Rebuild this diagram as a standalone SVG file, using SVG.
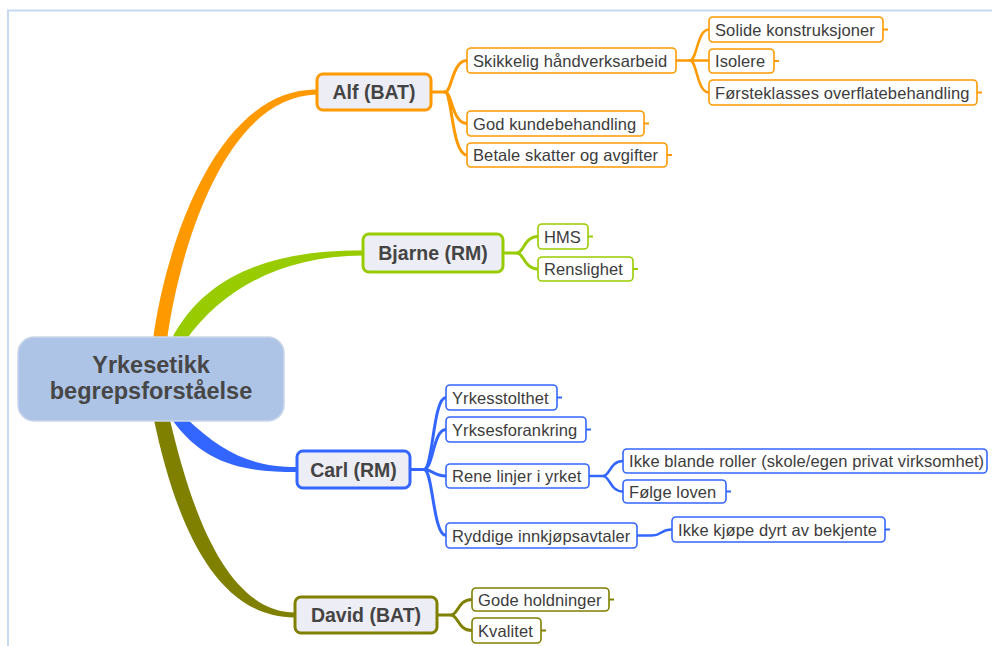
<svg xmlns="http://www.w3.org/2000/svg" width="992" height="646" viewBox="0 0 992 646">
<style>
text{font-family:"Liberation Sans",Arial,sans-serif;fill:#3c3c3c}
.sub{font-size:16.5px;letter-spacing:0.1px}
.main{font-size:19.5px;font-weight:bold;text-anchor:middle;fill:#444444}
.ctr{font-size:23.5px;font-weight:bold;text-anchor:middle;fill:#474747}
.mn{fill:#ededf5;stroke-width:3}
.sn{fill:#ffffff;stroke-width:1.6}
.c{fill:none;stroke-linecap:round}
.o{stroke:#ff9900}.g{stroke:#99cc00}.b{stroke:#3366ff}.v{stroke:#808000}
.tk{stroke-width:2;fill:none}
</style>
<path d="M8,646 V10.5 H992" fill="none" stroke="#c6d9f0" stroke-width="2"/>
<g id="connectors">
  <!-- main tapered branches -->
  <path d="M153,340 C165,248 216,88.5 317,89.5 L317,94.5 C224,96 179,252 167,340 Z" fill="#ff9900"/>
  <path d="M171,340 C206,272 276,250 363,250.5 L363,255.5 C284,256 224,287 186,340 Z" fill="#99cc00"/>
  <path d="M171,418 C204,466 247,472 297,472 L297,467 C250,467 222,452 186,418 Z" fill="#3366ff"/>
  <path d="M154,420 C172,504 208,618 295,617.5 L295,612.5 C222,612 188,496 170,420 Z" fill="#808000"/>
  <!-- Alf -->
  <g class="c o" stroke-width="3">
    <path d="M431,92 H445 C452,92 452,60.5 467,60.5"/>
    <path d="M445,92 C452,92 452,123.5 467,123.5"/>
    <path d="M445,92 C452,92 452,155 467,155"/>
  </g>
  <g class="c o" stroke-width="2.5">
    <path d="M676,60.5 H690 C697,60.5 697,29.5 709,29.5"/>
    <path d="M690,60.5 H709"/>
    <path d="M690,60.5 C697,60.5 697,92.5 709,92.5"/>
  </g>
  <!-- Bjarne -->
  <g class="c g" stroke-width="3">
    <path d="M503,253 H517 C524,253 524,236.5 538,236.5"/>
    <path d="M517,253 C524,253 524,269 538,269"/>
  </g>
  <!-- Carl -->
  <g class="c b" stroke-width="3">
    <path d="M410,469.5 H424 C433,469.5 433,397.5 446,397.5"/>
    <path d="M424,469.5 C433,469.5 433,429.5 446,429.5"/>
    <path d="M424,469.5 C433,469.5 433,476 446,476"/>
    <path d="M424,469.5 C433,469.5 433,535.5 446,535.5"/>
  </g>
  <g class="c b" stroke-width="2.5">
    <path d="M589,476 H603 C610,476 610,461 623,461"/>
    <path d="M603,476 C610,476 610,491.5 623,491.5"/>
    <path d="M637,535.5 H652 C662,535.5 660,529.5 672,529.5"/>
  </g>
  <!-- David -->
  <g class="c v" stroke-width="3">
    <path d="M437,615 H451 C458,615 458,599.5 472,599.5"/>
    <path d="M451,615 C458,615 458,630.5 472,630.5"/>
  </g>
  <!-- leaf ticks -->
  <g class="tk o">
    <path d="M883,29.5 h5"/><path d="M774,61 h5"/><path d="M977,92.5 h5"/>
    <path d="M644,123.5 h5"/><path d="M667,155 h5"/>
  </g>
  <g class="tk g"><path d="M588,236.5 h5"/><path d="M633,269 h5"/></g>
  <g class="tk b">
    <path d="M557,397.5 h5"/><path d="M586,429.5 h5"/><path d="M726,491.5 h5"/>
    <path d="M885,529.5 h5"/>
  </g>
  <g class="tk v"><path d="M609,599.5 h5"/><path d="M541,630.5 h5"/></g>
</g>
<g id="n-root">
  <rect x="18" y="337" width="266" height="84" rx="16" fill="#adc4e6" stroke="#c9d6ea" stroke-width="1.5"/>
  <text class="ctr" x="151" y="373">Yrkesetikk</text>
  <text class="ctr" x="151" y="399">begrepsforståelse</text>
</g>
<g id="n-alf">
  <rect class="mn o" x="317" y="74" width="114" height="36" rx="6"/>
  <text class="main" x="374" y="99">Alf (BAT)</text>
</g>
<g id="n-skikkelig"><rect class="sn o" x="467" y="48" width="209" height="25" rx="4"/><text class="sub" x="473" y="66.5">Skikkelig håndverksarbeid</text></g>
<g id="n-solide"><rect class="sn o" x="709" y="17" width="174" height="25" rx="4"/><text class="sub" x="715" y="35.5">Solide konstruksjoner</text></g>
<g id="n-isolere"><rect class="sn o" x="709" y="49" width="65" height="24" rx="4"/><text class="sub" x="715" y="67">Isolere</text></g>
<g id="n-forste"><rect class="sn o" x="709" y="80" width="268" height="25" rx="4"/><text class="sub" x="715" y="98.5">Førsteklasses overflatebehandling</text></g>
<g id="n-god"><rect class="sn o" x="467" y="111" width="177" height="25" rx="4"/><text class="sub" x="473" y="129.5">God kundebehandling</text></g>
<g id="n-betale"><rect class="sn o" x="467" y="143" width="200" height="24" rx="4"/><text class="sub" x="473" y="161">Betale skatter og avgifter</text></g>
<g id="n-bjarne">
  <rect class="mn g" x="363" y="234" width="140" height="38" rx="6"/>
  <text class="main" x="433" y="260">Bjarne (RM)</text>
</g>
<g id="n-hms"><rect class="sn g" x="538" y="224" width="50" height="25" rx="4"/><text class="sub" x="544" y="242.5">HMS</text></g>
<g id="n-renslighet"><rect class="sn g" x="538" y="257" width="95" height="24" rx="4"/><text class="sub" x="544" y="275">Renslighet</text></g>
<g id="n-carl">
  <rect class="mn b" x="297" y="451" width="113" height="37" rx="6"/>
  <text class="main" x="353.5" y="476.5">Carl (RM)</text>
</g>
<g id="n-yrkesstolthet"><rect class="sn b" x="446" y="385" width="111" height="25" rx="4"/><text class="sub" x="452" y="403.5">Yrkesstolthet</text></g>
<g id="n-yrksesforankring"><rect class="sn b" x="446" y="417" width="140" height="25" rx="4"/><text class="sub" x="452" y="435.5">Yrksesforankring</text></g>
<g id="n-rene"><rect class="sn b" x="446" y="464" width="143" height="24" rx="4"/><text class="sub" x="452" y="482">Rene linjer i yrket</text></g>
<g id="n-ikkeblande"><rect class="sn b" x="623" y="449" width="364" height="24" rx="4"/><text class="sub" x="629" y="467">Ikke blande roller (skole/egen privat virksomhet)</text></g>
<g id="n-folge"><rect class="sn b" x="623" y="480" width="103" height="23" rx="4"/><text class="sub" x="629" y="497.5">Følge loven</text></g>
<g id="n-ryddige"><rect class="sn b" x="446" y="523" width="191" height="25" rx="4"/><text class="sub" x="452" y="541.5">Ryddige innkjøpsavtaler</text></g>
<g id="n-ikkekjope"><rect class="sn b" x="672" y="517" width="213" height="25" rx="4"/><text class="sub" x="678" y="535.5">Ikke kjøpe dyrt av bekjente</text></g>
<g id="n-david">
  <rect class="mn v" x="295" y="597" width="142" height="36" rx="6"/>
  <text class="main" x="366" y="622">David (BAT)</text>
</g>
<g id="n-gode"><rect class="sn v" x="472" y="588" width="137" height="23" rx="4"/><text class="sub" x="478" y="605.5">Gode holdninger</text></g>
<g id="n-kvalitet"><rect class="sn v" x="472" y="618" width="69" height="25" rx="4"/><text class="sub" x="478" y="636.5">Kvalitet</text></g>
</svg>
